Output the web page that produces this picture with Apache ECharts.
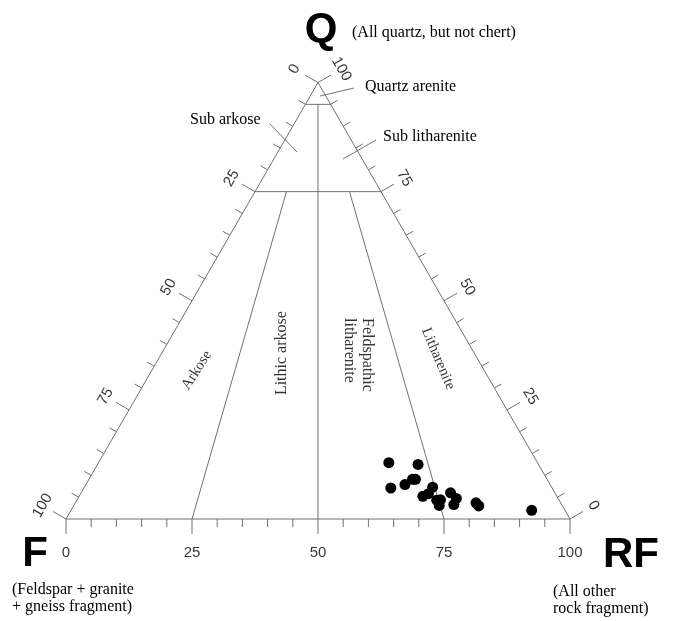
<!DOCTYPE html>
<html><head><meta charset="utf-8">
<script src="https://cdn.jsdelivr.net/npm/echarts@6/dist/echarts.min.js"></script>
<style>html,body{margin:0;padding:0;background:#fff}#c{width:673px;height:621px}</style>
</head><body><div id="c"></div>
<script>
// ---------- data ----------
const vertexNames = ['Q', 'F', 'RF'];
const vertexNotes = ['(All quartz, but not chert)', '(Feldspar + granite\n+ gneiss fragment)', '(All other\nrock fragment)'];
const tickValues = [0,5,10,15,20,25,30,35,40,45,50,55,60,65,70,75,80,85,90,95,100];
const labeledTicks = [0,25,50,75,100];
// sample composition (%)
const sampleQ  = [12.9,12.5, 7.1, 7.9, 9.1, 9.1, 7.3, 5.8, 5.2, 4.3, 4.4, 3.1, 6.0, 4.7, 3.3, 3.7, 3.0, 2.0];
const sampleF  = [29.5,23.9,32.0,28.8,26.7,26.1,23.6,25.2,26.6,24.3,23.5,24.4,20.7,20.2,21.4,16.8,16.6, 6.6];
const sampleRF = [57.6,63.6,60.9,63.3,64.2,64.8,69.1,69.0,68.2,71.4,72.1,72.5,73.3,75.1,75.3,79.5,80.4,91.4];
// classification boundaries as [Q,F,RF] endpoints
const fieldLines = [
  [[95,5,0],[95,0,5]],
  [[75,25,0],[75,0,25]],
  [[95,2.5,2.5],[0,50,50]],
  [[75,18.75,6.25],[0,75,25]],
  [[75,6.25,18.75],[0,25,75]]
];
const fieldNames = ['Arkose','Lithic arkose','Feldspathic\nlitharenite','Litharenite'];
const fieldLabelAt = [[34.1,57.0,8.9],[38.0,38.1,23.9],[46.05,19.05,34.9],[36.7,7.8,55.5]];
const outerNames = ['Quartz arenite','Sub arkose','Sub litharenite'];

// ---------- layout ----------
const W = 673, H = 621, S = 5.04, OX = 66, OY = 519;
const R3 = Math.sqrt(3) / 2;
function tern(q, f, rf) { const t = q + f + rf; return [(rf + q / 2) * 100 / t, q * R3 * 100 / t]; }
function px(x, y) { return [(x - OX) / S, (OY - y) / S]; }

const LINE = '#707070';
const SERIF = '"Liberation Serif", "Times New Roman", serif';
const SANS = '"Liberation Sans", Arial, sans-serif';

const segs = [];
const vQ = tern(100,0,0), vF = tern(0,100,0), vR = tern(0,0,100);
segs.push([vQ[0],vQ[1],vF[0],vF[1]], [vF[0],vF[1],vR[0],vR[1]], [vR[0],vR[1],vQ[0],vQ[1]]);
fieldLines.forEach(l => { const a = tern(...l[0]), b = tern(...l[1]); segs.push([a[0],a[1],b[0],b[1]]); });

const labels = [];
tickValues.forEach(v => {
  const len = (v % 25 === 0 ? 15 : 8) / S;
  const off = 27 / S;
  let p = tern(0, 100 - v, v);             // bottom: RF
  segs.push([p[0], p[1], p[0], p[1] - len]);
  if (labeledTicks.includes(v)) labels.push({value:[p[0], p[1] - 34 / S], name:String(v), rot:0, font:SANS, size:15});
  p = tern(100 - v, v, 0);                  // left: F
  segs.push([p[0], p[1], p[0] - len * R3, p[1] + len * 0.5]);
  if (labeledTicks.includes(v)) labels.push({value:[p[0] - off * R3, p[1] + off * 0.5], name:String(v), rot:60, font:SANS, size:15});
  p = tern(v, 0, 100 - v);                  // right: Q
  segs.push([p[0], p[1], p[0] + len * R3, p[1] + len * 0.5]);
  if (labeledTicks.includes(v)) labels.push({value:[p[0] + off * R3, p[1] + off * 0.5], name:String(v), rot:-60, font:SANS, size:15});
});
const leaders = [[320,96,354,88],[270,124,297,152],[376,140,343,159]];
leaders.forEach(l => { const a = px(l[0], l[1]), b = px(l[2], l[3]); segs.push([a[0],a[1],b[0],b[1]]); });

const fieldRot = [57, 90, -90, -67];
const fieldSize = [15, 16, 16, 15];
const fieldAlign = ['center', 'center', 'left', 'center'];
fieldNames.forEach((n, i) => {
  labels.push({value: tern(...fieldLabelAt[i]), name: n, rot: fieldRot[i], font: SERIF, size: fieldSize[i], align: fieldAlign[i]});
});

const samples = sampleQ.map((q, i) => tern(q, sampleF[i], sampleRF[i]));

const txt = (x, y, t, font, extra) => ({type:'text', x, y, style: Object.assign({text:t, font, fill:'#000', textVerticalAlign:'middle', verticalAlign:'middle'}, extra || {})});

const chart = echarts.init(document.getElementById('c'), null, {renderer: 'canvas'});
chart.setOption({
  animation: false,
  backgroundColor: '#fff',
  grid: {left: 0, top: 0, width: W, height: H, containLabel: false},
  xAxis: {type: 'value', min: -OX / S, max: (W - OX) / S, show: false},
  yAxis: {type: 'value', min: -(H - OY) / S, max: OY / S, show: false},
  graphic: [
    txt(321, 30, vertexNames[0], 'bold 42px ' + SANS, {textAlign:'center', align:'center'}),
    txt(35, 554, vertexNames[1], 'bold 42px ' + SANS, {textAlign:'center', align:'center'}),
    txt(631, 555, vertexNames[2], 'bold 42px ' + SANS, {textAlign:'center', align:'center'}),
    txt(352, 33, vertexNotes[0], '16px ' + SERIF),
    {type:'text', x:12, y:581, style:{text:vertexNotes[1], font:'16px ' + SERIF, fill:'#000', lineHeight:17}},
    {type:'text', x:553, y:583, style:{text:vertexNotes[2], font:'16px ' + SERIF, fill:'#000', lineHeight:17}},
    txt(365, 87, outerNames[0], '16px ' + SERIF),
    txt(190, 120, outerNames[1], '16px ' + SERIF),
    txt(383, 137, outerNames[2], '16px ' + SERIF)
  ],
  series: [
    {
      type: 'custom', coordinateSystem: 'cartesian2d', silent: true,
      encode: {x: [0, 2], y: [1, 3]},
      data: segs,
      renderItem: (params, api) => {
        const a = api.coord([api.value(0), api.value(1)]);
        const b = api.coord([api.value(2), api.value(3)]);
        return {type: 'line', shape: {x1: a[0], y1: a[1], x2: b[0], y2: b[1]}, style: {stroke: LINE, lineWidth: 1}};
      }
    },
    {
      type: 'scatter', silent: true, symbolSize: 11,
      itemStyle: {color: '#000', opacity: 1},
      data: samples
    },
    {
      type: 'scatter', silent: true, symbolSize: 1,
      itemStyle: {color: 'rgba(0,0,0,0)'},
      data: labels.map(l => ({
        value: l.value, name: l.name,
        label: {show: true, position: 'inside', formatter: l.name, rotate: l.rot, color: '#000',
                fontFamily: l.font, fontSize: l.size, align: l.align || 'center', verticalAlign: 'middle', lineHeight: l.size + 2}
      }))
    }
  ]
});
</script></body></html>
